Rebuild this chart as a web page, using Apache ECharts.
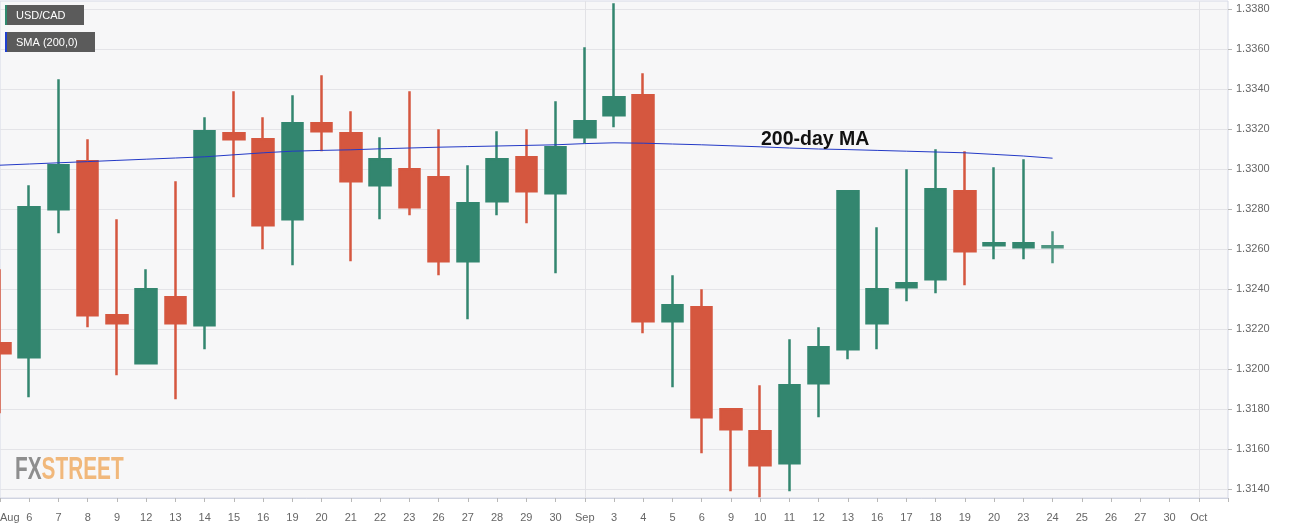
<!DOCTYPE html>
<html>
<head>
<meta charset="utf-8">
<script src="https://cdn.jsdelivr.net/npm/echarts@6/dist/echarts.min.js"></script>
<style>
html,body{margin:0;padding:0;background:#ffffff;}
#chart{width:1299px;height:530px;}
</style>
</head>
<body>
<div id="chart"></div>
<script>
const categories = [
  '2019-08-05','2019-08-06','2019-08-07','2019-08-08','2019-08-09','2019-08-12','2019-08-13','2019-08-14','2019-08-15','2019-08-16',
  '2019-08-19','2019-08-20','2019-08-21','2019-08-22','2019-08-23','2019-08-26','2019-08-27','2019-08-28','2019-08-29','2019-08-30',
  '2019-09-02','2019-09-03','2019-09-04','2019-09-05','2019-09-06','2019-09-09','2019-09-10','2019-09-11','2019-09-12','2019-09-13',
  '2019-09-16','2019-09-17','2019-09-18','2019-09-19','2019-09-20','2019-09-23','2019-09-24','2019-09-25','2019-09-26','2019-09-27',
  '2019-09-30','2019-10-01','2019-10-02'
];
const xLabels = ['Aug','6','7','8','9','12','13','14','15','16','19','20','21','22','23','26','27','28','29','30',
  'Sep','3','4','5','6','9','10','11','12','13','16','17','18','19','20','23','24','25','26','27','30','Oct',''];

const opens  = [1.3213,1.3206,1.3280,1.3304,1.3227,1.3203,1.3236,1.3222,1.3318,1.3315,
                1.3275,1.3323,1.3318,1.3292,1.3300,1.3296,1.3254,1.3284,1.3306,1.3288,
                1.3316,1.3327,1.3337,1.3224,1.3231,1.3180,1.3169,1.3153,1.3193,1.3210,
                1.3223,1.3241,1.3245,1.3289,1.3262,1.3261,1.3261];
const closes = [1.3208,1.3281,1.3302,1.3227,1.3223,1.3240,1.3223,1.3319,1.3315,1.3272,
                1.3323,1.3319,1.3294,1.3305,1.3281,1.3254,1.3283,1.3305,1.3289,1.3311,
                1.3324,1.3336,1.3224,1.3232,1.3176,1.3170,1.3152,1.3192,1.3211,1.3289,
                1.3240,1.3243,1.3290,1.3259,1.3263,1.3263,1.32615];
const lows   = [1.3178,1.3186,1.3268,1.3221,1.3197,1.3203,1.3185,1.3210,1.3286,1.3260,
                1.3252,1.3309,1.3254,1.3275,1.3277,1.3247,1.3225,1.3277,1.3273,1.3248,
                1.3313,1.3321,1.3218,1.3191,1.3158,1.3139,1.3136,1.3139,1.3176,1.3205,
                1.3210,1.3234,1.3238,1.3242,1.3255,1.3255,1.3253];
const highs  = [1.3250,1.3292,1.3345,1.3315,1.3275,1.3250,1.3294,1.3326,1.3339,1.3326,
                1.3337,1.3347,1.3329,1.3316,1.3339,1.3320,1.3302,1.3319,1.3320,1.3334,
                1.3361,1.3383,1.3348,1.3247,1.3240,1.3180,1.3192,1.3215,1.3221,1.3289,
                1.3271,1.3300,1.3310,1.3309,1.3301,1.3305,1.3269];
const sma200 = [1.33020,1.33026,1.33032,1.33038,1.33044,1.33050,1.33056,1.33062,1.33072,1.33082,
                1.33090,1.33094,1.33097,1.33102,1.33106,1.33110,1.33113,1.33116,1.33119,1.33122,
                1.33128,1.33132,1.33130,1.33126,1.33122,1.33117,1.33112,1.33106,1.33101,1.33098,
                1.33094,1.33090,1.33086,1.33082,1.33074,1.33066,1.33055];
const yTicks = [1.3140,1.3160,1.3180,1.3200,1.3220,1.3240,1.3260,1.3280,1.3300,1.3320,1.3340,1.3360,1.3380];
const monthStartIdx = [20, 41];

const GREEN = '#33866f', RED = '#d5573f';
const FONT = '"Liberation Sans", Arial, sans-serif';

const candleData = opens.map((o, i) => {
  const item = { value: [o, closes[i], lows[i], highs[i]] };
  if (i === opens.length - 1) item.itemStyle = { color: '#5fa08e', borderColor: '#4f9682' };
  return item;
});

const chart = echarts.init(document.getElementById('chart'), null, { renderer: 'canvas' });
chart.setOption({
  animation: false,
  backgroundColor: '#ffffff',
  grid: { left: 0, right: 71, top: 1, bottom: 32, containLabel: false, outerBoundsMode: 'none',
          show: true, backgroundColor: '#f7f7f8', borderColor: '#d6d9e6', borderWidth: 1 },
  xAxis: {
    type: 'category',
    data: categories,
    boundaryGap: false,
    axisLine: { show: true, lineStyle: { color: '#cfd3e0' } },
    axisTick: { show: true, length: 4, interval: 0, lineStyle: { color: '#b8b8b8' } },
    axisLabel: {
      interval: 0, color: '#666', fontSize: 11, fontFamily: FONT, margin: 14,
      alignMinLabel: 'left',
      formatter: (v, i) => xLabels[i]
    },
    splitLine: { show: true, interval: (i) => monthStartIdx.indexOf(i) >= 0, lineStyle: { color: '#e2e2e6' } }
  },
  yAxis: {
    type: 'value',
    position: 'right',
    min: 1.31356,
    max: 1.33841,
    axisLine: { show: false },
    axisTick: { show: true, length: 4, lineStyle: { color: '#b8b8b8' }, customValues: yTicks },
    axisLabel: { customValues: yTicks, formatter: v => v.toFixed(4), color: '#666', fontSize: 11, fontFamily: FONT, margin: 8 },
    splitLine: { show: true, lineStyle: { color: '#e4e4e8' } }
  },
  series: [
    {
      type: 'candlestick',
      data: candleData,
      barWidth: 21,
      itemStyle: { color: GREEN, color0: RED, borderColor: GREEN, borderColor0: RED, borderWidth: 2.5 },
      z: 2
    },
    {
      type: 'line',
      data: sma200,
      symbol: 'none',
      lineStyle: { color: '#2339c6', width: 1 },
      z: 3
    }
  ],
  graphic: [
    { type: 'rect', left: 5, top: 5, shape: { width: 79, height: 20 }, style: { fill: '#5b5b5b' }, z: 10 },
    { type: 'rect', left: 5, top: 5, shape: { width: 2, height: 20 }, style: { fill: '#2f8a6e' }, z: 11 },
    { type: 'text', x: 16, y: 15.5, style: { text: 'USD/CAD', fill: '#ffffff', fontSize: 11, fontFamily: FONT, verticalAlign: 'middle' }, z: 11 },
    { type: 'rect', left: 5, top: 32, shape: { width: 90, height: 20 }, style: { fill: '#5b5b5b' }, z: 10 },
    { type: 'rect', left: 5, top: 32, shape: { width: 2, height: 20 }, style: { fill: '#1f3fd0' }, z: 11 },
    { type: 'text', x: 16, y: 42.5, style: { text: 'SMA (200,0)', fill: '#ffffff', fontSize: 11, fontFamily: FONT, verticalAlign: 'middle' }, z: 11 },
    { type: 'text', x: 761, y: 140, style: { text: '200-day MA', fill: '#111111', fontSize: 19.5, fontWeight: 'bold', fontFamily: FONT, verticalAlign: 'middle' }, z: 11 },
    { type: 'text', x: 15, y: 470, scaleX: 0.65, style: {
        text: '{a|FX}{b|STREET}', verticalAlign: 'middle',
        rich: {
          a: { fill: '#8e8e8e', fontSize: 32, fontWeight: 'bold', fontFamily: FONT },
          b: { fill: '#f1b87b', fontSize: 32, fontWeight: 'bold', fontFamily: FONT }
        }
      }, z: 11 }
  ]
});
</script>
</body>
</html>
